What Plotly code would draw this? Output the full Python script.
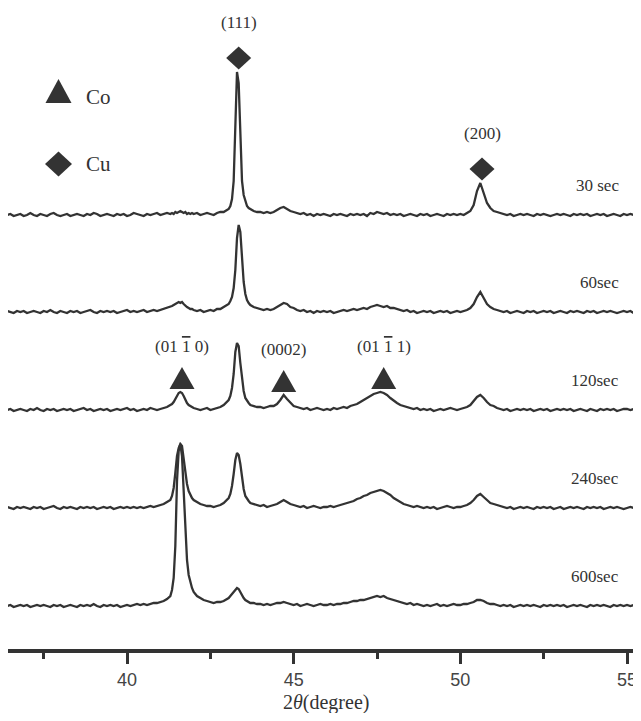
import plotly.graph_objects as go

# ---------------- data ----------------
two_theta = (
    [36.4, 36.5, 36.6, 36.7, 36.8, 36.9, 37.0, 37.1, 37.2, 37.3,
     37.4, 37.5, 37.6, 37.7, 37.8, 37.9, 38.0, 38.1, 38.2, 38.3,
     38.4, 38.5, 38.6, 38.7, 38.8, 38.9, 39.0, 39.1, 39.2, 39.3,
     39.4, 39.5, 39.6, 39.7, 39.8, 39.9, 40.0, 40.1, 40.2, 40.3,
     40.4, 40.5, 40.6, 40.7, 40.8, 40.9, 41.0, 41.1, 41.2, 41.3]
    + [41.35, 41.4, 41.45, 41.5, 41.55, 41.6, 41.65, 41.7, 41.75, 41.8, 41.85, 41.9, 41.95]
    + [42.0, 42.1, 42.2, 42.3, 42.4, 42.5, 42.6, 42.7, 42.8, 42.9, 43.0]
    + [43.05, 43.1, 43.15, 43.2, 43.25, 43.3, 43.35, 43.4, 43.45, 43.5, 43.55, 43.6, 43.65]
    + [43.7, 43.8, 43.9,
       44.0, 44.1, 44.2, 44.3, 44.4, 44.5, 44.6, 44.7, 44.8, 44.9,
       45.0, 45.1, 45.2, 45.3, 45.4, 45.5, 45.6, 45.7, 45.8, 45.9,
       46.0, 46.1, 46.2, 46.3, 46.4, 46.5, 46.6, 46.7, 46.8, 46.9,
       47.0, 47.1, 47.2, 47.3, 47.4, 47.5, 47.6, 47.7, 47.8, 47.9,
       48.0, 48.1, 48.2, 48.3, 48.4, 48.5, 48.6, 48.7, 48.8, 48.9,
       49.0, 49.1, 49.2, 49.3, 49.4, 49.5, 49.6, 49.7, 49.8, 49.9,
       50.0, 50.1, 50.2, 50.3, 50.4, 50.5, 50.6, 50.7, 50.8, 50.9,
       51.0, 51.1, 51.2, 51.3, 51.4, 51.5, 51.6, 51.7, 51.8, 51.9,
       52.0, 52.1, 52.2, 52.3, 52.4, 52.5, 52.6, 52.7, 52.8, 52.9,
       53.0, 53.1, 53.2, 53.3, 53.4, 53.5, 53.6, 53.7, 53.8, 53.9,
       54.0, 54.1, 54.2, 54.3, 54.4, 54.5, 54.6, 54.7, 54.8, 54.9,
       55.0, 55.1, 55.2, 55.3, 55.4]
)

int_30s = (
    [0, 1, -1, 0, 1, -1, 0, 2, 0, -1,
     1, 0, -1, 1, 2, 0, -1, 0, 1, -1,
     0, 1, 0, -1, 1, 0, 2, 1, -1, 0,
     1, 0, -1, 1, 0, 1, -1, 0, 2, 1,
     0, -1, 1, 0, 1, 2, 0, 1, 2, 1]
    + [2, 1, 3, 2, 3, 4, 3, 2, 3, 1, 2, 1, 2]
    + [1, 2, 0, 1, 2, 1, 0, 2, 3, 3, 5]
    + [6, 9, 16, 34, 80, 143, 132, 70, 34, 20, 13, 9, 7]
    + [6, 4, 3,
       3, 2, 3, 2, 3, 5, 7, 8, 6, 4,
       3, 2, 1, 2, 0, 1, -1, 1, 0, 1,
       0, -1, 1, 0, 1, 0, -1, 1, 0, 1,
       0, 1, -1, 2, 1, 3, 2, 1, 2, 0,
       1, 0, 1, -1, 0, 1, 0, -1, 1, 0,
       1, -1, 0, 1, 0, -1, 1, 0, 1, 0,
       1, 0, 2, 4, 10, 24, 32, 22, 12, 7,
       4, 3, 2, 1, 0, 1, -1, 0, 1, 0,
       1, 0, -1, 1, 0, 1, 0, -1, 0, 1,
       0, 1, 0, -1, 1, 0, 1, 0, 1, -1,
       0, 1, 0, 1, -1, 0, 1, 0, -1, 1,
       0, 1, 0, 1, 0]
)

int_60s = (
    [1, 0, -1, 1, 0, 1, -1, 0, 1, 0,
     -1, 1, 0, 2, 0, -1, 1, 0, -1, 1,
     0, 1, -1, 0, 1, 2, 0, -1, 1, 0,
     1, 0, 1, -1, 0, 1, 2, 0, 1, 0,
     1, 2, 0, 1, 2, 1, 2, 3, 4, 5]
    + [6, 7, 8, 9, 10, 9, 10, 8, 6, 5, 4, 3, 3]
    + [2, 1, 2, 0, 1, 2, 1, 3, 3, 5, 7]
    + [8, 11, 15, 24, 42, 74, 87, 80, 52, 30, 18, 12, 9]
    + [7, 5, 4,
       3, 2, 3, 2, 3, 5, 7, 9, 8, 5,
       4, 2, 1, 2, 0, 1, -1, 1, 0, 1,
       0, 1, -1, 0, 1, 2, 1, 2, 3, 2,
       3, 4, 3, 5, 6, 7, 6, 5, 6, 4,
       4, 3, 2, 1, 2, 0, 1, -1, 0, 1,
       0, 1, -1, 0, 1, 0, 1, -1, 0, 1,
       0, 1, 2, 4, 8, 15, 20, 14, 8, 5,
       3, 2, 1, 0, 1, -1, 0, 1, 0, -1,
       1, 0, 1, -1, 0, 1, 0, 1, -1, 0,
       1, 0, -1, 1, 0, 1, 0, -1, 1, 0,
       1, -1, 0, 1, 0, 1, 0, -1, 0, 1,
       0, 1, -1, 0, 1]
)

int_120s = (
    [0, 1, -1, 0, 1, 0, -1, 1, 0, 2,
     0, -1, 1, 0, 1, -1, 0, 1, 0, 1,
     -1, 0, 1, 2, 0, 1, -1, 0, 1, 0,
     1, -1, 0, 1, 0, 1, 2, 0, 1, -1,
     0, 1, 0, 2, 1, 0, 1, 2, 3, 5]
    + [6, 8, 11, 14, 17, 18, 17, 14, 10, 7, 5, 4, 3]
    + [2, 1, 0, 1, 2, 0, 1, 2, 3, 5, 8]
    + [10, 14, 22, 36, 58, 67, 64, 47, 30, 19, 12, 9, 7]
    + [5, 4, 3,
       3, 2, 3, 4, 4, 6, 10, 15, 11, 7,
       4, 3, 2, 1, 2, 0, 1, 2, 1, 0,
       1, 0, 2, 1, 2, 3, 2, 4, 5, 6,
       8, 10, 12, 14, 16, 17, 18, 17, 15, 12,
       9, 7, 5, 4, 3, 2, 1, 2, 0, 1,
       0, 1, -1, 0, 1, 0, 1, 2, 1, 0,
       1, 2, 3, 5, 9, 13, 15, 12, 8, 5,
       4, 2, 1, 0, 1, -1, 0, 1, 0, 1,
       0, 1, -1, 0, 1, 0, 1, -1, 0, 1,
       0, 1, 0, 1, -1, 0, 1, 0, -1, 1,
       0, -1, 1, 0, 1, 0, 1, -1, 0, 1,
       1, 0, 1, -1, 0]
)

int_240s = (
    [1, 0, -1, 1, 0, 1, 0, -1, 1, 0,
     1, -1, 0, 1, 2, 0, -1, 1, 0, 1,
     0, -1, 1, 0, 1, 0, 1, -1, 0, 1,
     0, 1, -1, 0, 1, 0, 1, 0, 1, 0,
     1, 0, 1, 2, 1, 2, 3, 4, 6, 8]
    + [12, 20, 35, 52, 60, 64, 62, 50, 35, 24, 17, 13, 10]
    + [8, 6, 4, 3, 2, 2, 1, 2, 3, 5, 8]
    + [10, 14, 22, 34, 48, 55, 53, 44, 30, 19, 12, 9, 7]
    + [5, 4, 3,
       2, 3, 1, 2, 3, 4, 6, 8, 6, 4,
       3, 2, 1, 2, 0, 1, 2, 1, 0, 1,
       1, 2, 1, 2, 3, 4, 5, 6, 7, 9,
       10, 12, 13, 15, 16, 17, 18, 17, 15, 13,
       10, 8, 6, 4, 3, 2, 1, 2, 1, 0,
       1, 0, 1, -1, 0, 1, 2, 1, 0, 1,
       1, 2, 3, 5, 8, 12, 14, 11, 8, 5,
       4, 3, 2, 1, 0, 1, -1, 0, 1, 0,
       1, 0, -1, 1, 0, 1, 0, 1, -1, 0,
       1, -1, 0, 1, 0, 1, 0, -1, 1, 0,
       1, 0, 1, -1, 0, 1, 0, 1, 0, -1,
       0, 1, 0, 1, 0]
)

int_600s = (
    [0, 1, -1, 0, 1, 0, 1, -1, 0, 1,
     0, 1, 0, -1, 1, 0, 1, -1, 0, 1,
     0, -1, 1, 0, 1, 0, 2, 0, -1, 1,
     0, 1, 0, 1, -1, 0, 1, 0, 1, 2,
     1, 2, 1, 2, 3, 3, 4, 5, 7, 10]
    + [16, 28, 60, 125, 155, 162, 150, 118, 75, 46, 31, 23, 18]
    + [14, 10, 8, 6, 5, 4, 3, 4, 4, 5, 7]
    + [8, 10, 12, 15, 17, 18, 17, 14, 10, 8, 6, 5, 4]
    + [3, 3, 2,
       2, 1, 2, 1, 2, 3, 3, 4, 3, 2,
       1, 2, 0, 1, 2, 1, 0, 1, 2, 1,
       1, 2, 1, 2, 2, 3, 3, 4, 5, 5,
       6, 6, 7, 8, 9, 10, 9, 10, 8, 7,
       6, 5, 4, 3, 2, 3, 1, 2, 1, 0,
       1, 0, 1, 2, 0, 1, 0, 1, 2, 1,
       1, 2, 2, 3, 4, 6, 6, 5, 3, 2,
       2, 1, 0, 1, 0, 1, -1, 0, 1, 0,
       1, 0, 1, 0, -1, 1, 0, 1, 0, 1,
       0, 1, -1, 0, 1, 0, 1, 0, -1, 1,
       0, 1, 0, 1, 0, -1, 1, 0, 1, 0,
       1, 0, 1, 0, 1]
)

sample_labels = ["30 sec", "60sec", "120sec", "240sec", "600sec"]
intensities = [int_30s, int_60s, int_120s, int_240s, int_600s]

cu_peaks = [43.35, 50.65]
cu_hkl = ["(111)", "(200)"]
co_peaks = [41.65, 44.7, 47.7]
OVER1 = '<span style="text-decoration:overline">1</span>'
co_hkl = ["(01 " + OVER1 + " 0)", "(0002)", "(01 " + OVER1 + " 1)"]
tick_values = [40, 45, 50, 55]
tick_text = ["40", "45", "50", "55"]

# ---------------- layout constants ----------------
PAGE_OFF = 8                     # default body margin of the html page
W, H = 641 - PAGE_OFF, 721 - 2 * PAGE_OFF
ML, MR, MT, MB = 0, 0, 0, 64
X_RANGE = [36.43, 55.42]
PLOT_W = W - ML - MR
PLOT_H = H - MT - MB
Y_RANGE = [0, PLOT_H]           # 1 y-unit == 1 pixel
PX_PER_DEG = PLOT_W / (X_RANGE[1] - X_RANGE[0])
baseline_offsets = [434, 337, 239, 141, 43]
INK = "#333333"
SERIF = "Liberation Serif, Times New Roman, serif"


def px(xr):
    """reference-image x pixel -> paper fraction"""
    return (xr - PAGE_OFF - ML) / PLOT_W


def py(yr):
    """reference-image y pixel -> paper fraction"""
    return (MT + PLOT_H - (yr - PAGE_OFF)) / PLOT_H


fig = go.Figure()
for lab, ints, off in zip(sample_labels, intensities, baseline_offsets):
    fig.add_trace(go.Scatter(
        x=two_theta, y=[v + off for v in ints], mode="lines",
        line=dict(color=INK, width=2.3), name=lab, showlegend=False,
        hoverinfo="skip"))


def apex(ints, off, xc, win=0.35):
    return off + max(v for t, v in zip(two_theta, ints) if abs(t - xc) <= win)


shapes = []
annotations = []

# Cu diamonds on 30 sec pattern
for xc, lab in zip(cu_peaks, cu_hkl):
    yc = apex(int_30s, baseline_offsets[0], xc) + 14
    hw = 12.5 / PX_PER_DEG
    hh = 11.5
    shapes.append(dict(type="path", xref="x", yref="y",
                       path=f"M{xc-hw},{yc} L{xc},{yc+hh} L{xc+hw},{yc} L{xc},{yc-hh} Z",
                       fillcolor=INK, line=dict(width=0)))
    annotations.append(dict(x=xc, y=yc + 36, xref="x", yref="y", text=lab,
                            showarrow=False, xanchor="center", yanchor="middle",
                            font=dict(family=SERIF, size=17, color=INK)))

# Co triangles on 120 sec pattern
for xc, lab in zip(co_peaks, co_hkl):
    yc = apex(int_120s, baseline_offsets[2], xc) + 14
    hw = 12.5 / PX_PER_DEG
    hh = 11
    shapes.append(dict(type="path", xref="x", yref="y",
                       path=f"M{xc-hw},{yc-hh} L{xc+hw},{yc-hh} L{xc},{yc+hh} Z",
                       fillcolor=INK, line=dict(width=0)))
    annotations.append(dict(x=xc, y=yc + 32, xref="x", yref="y", text=lab,
                            showarrow=False, xanchor="center", yanchor="middle",
                            font=dict(family=SERIF, size=17, color=INK)))

# sample labels on the right
for lab, off in zip(sample_labels, baseline_offsets):
    annotations.append(dict(x=px(621), xref="paper", y=off + 30, yref="y",
                            text=lab, showarrow=False, xanchor="right", yanchor="middle",
                            font=dict(family=SERIF, size=17, color=INK)))

# legend (layout positions given in reference pixels)
lx, ty, dy_ = 58.5, 91, 164
thw, thh = 13, 12
shapes.append(dict(type="path", xref="paper", yref="paper",
                   path=f"M{px(lx-thw)},{py(ty+thh)} L{px(lx+thw)},{py(ty+thh)} L{px(lx)},{py(ty-thh)} Z",
                   fillcolor=INK, line=dict(width=0)))
dhw, dhh = 13.5, 12.5
shapes.append(dict(type="path", xref="paper", yref="paper",
                   path=f"M{px(lx-dhw)},{py(dy_)} L{px(lx)},{py(dy_-dhh)} L{px(lx+dhw)},{py(dy_)} L{px(lx)},{py(dy_+dhh)} Z",
                   fillcolor=INK, line=dict(width=0)))
for txt, yy in (("Co", 97), ("Cu", 164)):
    annotations.append(dict(x=px(84), y=py(yy), xref="paper", yref="paper", text=txt,
                            showarrow=False, xanchor="left", yanchor="middle",
                            font=dict(family=SERIF, size=21, color=INK)))

# x-axis title
annotations.append(dict(x=px(326), y=py(702), xref="paper", yref="paper",
                        text="2<i>\u03b8</i>(degree)", showarrow=False,
                        xanchor="center", yanchor="middle",
                        font=dict(family=SERIF, size=20, color=INK)))

fig.update_layout(
    width=W, height=H, margin=dict(l=ML, r=MR, t=MT, b=MB),
    paper_bgcolor="white", plot_bgcolor="white",
    shapes=shapes, annotations=annotations, showlegend=False,
    xaxis=dict(range=X_RANGE, showgrid=False, zeroline=False,
               showline=True, linewidth=4, linecolor=INK,
               ticks="outside", ticklen=11, tickwidth=2.5, tickcolor=INK,
               tickvals=tick_values, ticktext=tick_text,
               tickfont=dict(family="Liberation Sans, Arial, sans-serif", size=18, color="#444444"),
               minor=dict(ticks="outside", ticklen=6, tickwidth=2.5, tickcolor=INK,
                          tickvals=[37.5, 42.5, 47.5, 52.5])),
    yaxis=dict(range=Y_RANGE, visible=False, showgrid=False, zeroline=False),
)

fig.write_html("out.html")
